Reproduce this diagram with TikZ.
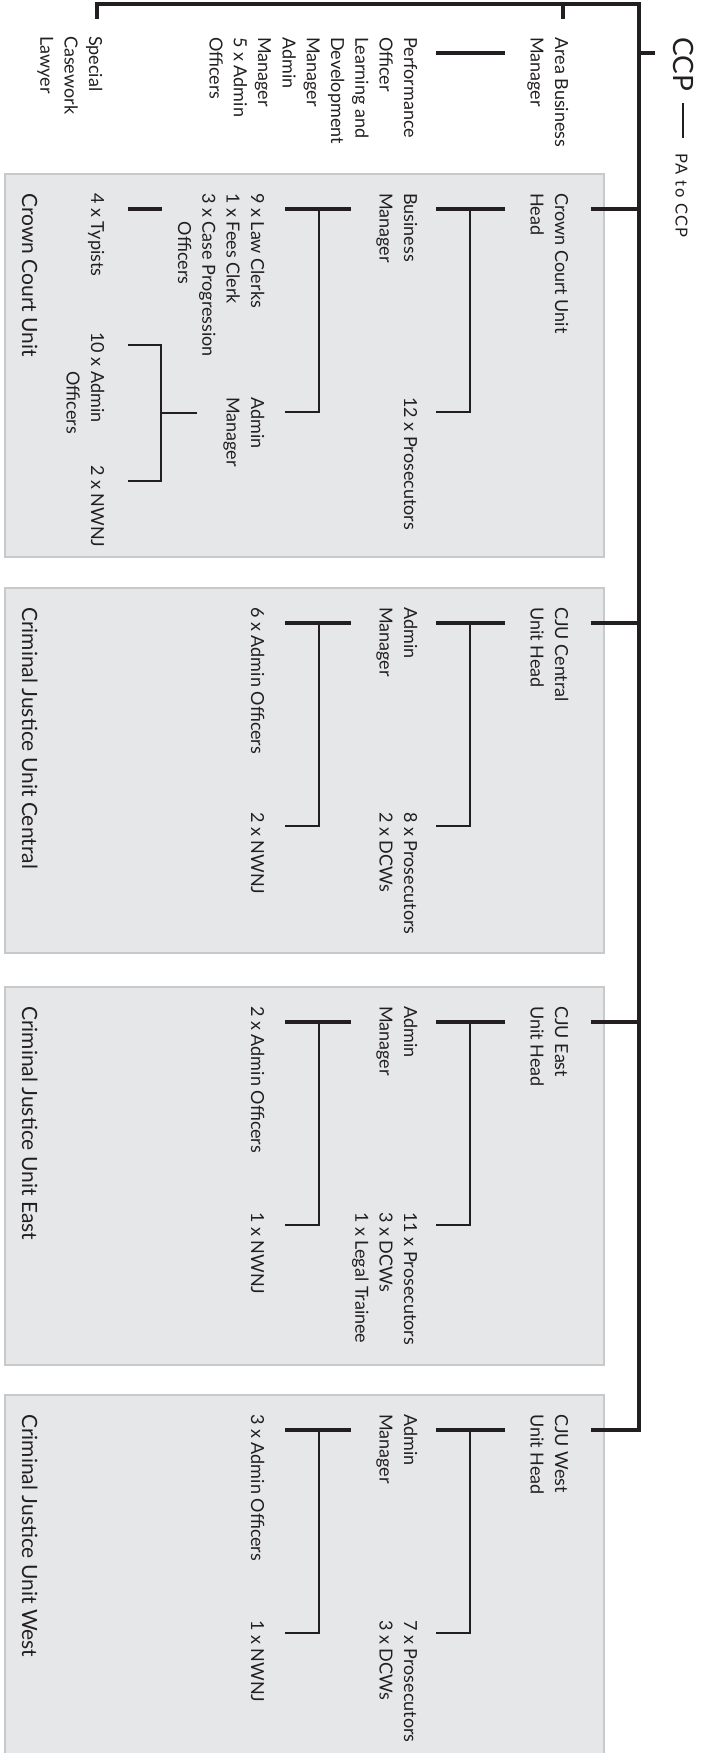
\documentclass[tikz,border=0pt]{standalone}
\usepackage{fontspec}
\setmainfont{Lato}
\definecolor{ink}{HTML}{231F20}
\definecolor{unitfill}{HTML}{E6E7E8}
\definecolor{unitedge}{HTML}{C8C9CA}
% a block of left-aligned lines whose baseline is the first line
\newcommand\txtlines[1]{\begin{tabular}[t]{@{}l@{}}#1\end{tabular}}
% grey unit panel with its head connector and the two standard brackets
\newcommand\unitframe[2]{%
  \path[unitbox] (5,0) rectangle (604,#2);
  \coordinate (#1-in) at (591,35);  \coordinate (#1-sp) at (639,35);
  \coordinate (#1-a1) at (436,35);  \coordinate (#1-a2) at (505,35);
  \coordinate (#1-aj) at (470,35);  \coordinate (#1-ab) at (470,238);
  \coordinate (#1-ae) at (436,238);
  \coordinate (#1-b1) at (285,35);  \coordinate (#1-b2) at (351,35);
  \coordinate (#1-bj) at (319,35);  \coordinate (#1-bb) at (319,238);
  \coordinate (#1-be) at (285,238);
  \draw[link] (#1-in) -- (#1-sp);
  \draw[link] (#1-a1) -- (#1-a2);
  \draw[riser] (#1-aj) -- (#1-ab) -- (#1-ae);
  \draw[link] (#1-b1) -- (#1-b2);
  \draw[riser] (#1-bj) -- (#1-bb) -- (#1-be);
}
\tikzset{
  lbl/.style={rotate=-90, anchor=base west, inner sep=0pt, text=ink,
    font=\fontsize{18}{24.3}\selectfont},
  unitname/.style={lbl, font=\fontsize{21}{25}\selectfont},
  unitbox/.style={fill=unitfill, draw=unitedge, line width=1.4pt},
  link/.style={draw=ink, line width=3.4pt},
  riser/.style={draw=ink, line width=2.6pt, line join=miter},
  spine/.style={draw=ink, line width=3.1pt, line join=miter},
}
\begin{document}
\begin{tikzpicture}[x=1pt, y=-1pt]
\path[use as bounding box] (0,0) rectangle (702,1753);
\clip (0,0) rectangle (702,1753);

% ---- top of the chart ----
\coordinate (spl-end) at (97,19);
\coordinate (top-l) at (97,4);
\coordinate (top-r) at (639,4);
\coordinate (abm-t) at (563,4);
\coordinate (abm-b) at (563,19);
\coordinate (west-corner) at (639,1430);
\coordinate (west-in) at (591,1430);
\coordinate (ccp-sp) at (639,53);
\coordinate (ccp-in) at (655,53);
\coordinate (abm-r1) at (436,53);
\coordinate (abm-r2) at (505,53);
\coordinate (pa-t) at (683,103);
\coordinate (pa-b) at (683,138);

% ---- Crown Court Unit ----
\begin{scope}[shift={(0,174)}]
  \unitframe{ccu}{383}
  \coordinate (typ-a) at (128,35);  \coordinate (typ-b) at (162,35);
  \coordinate (am-in) at (197,239); \coordinate (am-j) at (161,239);
  \coordinate (am-t) at (161,171);  \coordinate (am-tb) at (128,171);
  \coordinate (am-b) at (161,307);  \coordinate (am-bb) at (128,307);
  \draw[link] (typ-a) -- (typ-b);
  \draw[riser] (am-in) -- (am-j);
  \draw[riser] (am-tb) -- (am-t) -- (am-b) -- (am-bb);
  \node[lbl] (ccu-head) at (555,19) {\txtlines{Crown Court Unit\\Head}};
  \node[lbl] (ccu-bm) at (404,19) {\txtlines{Business\\Manager}};
  \node[lbl] (ccu-pros) at (404,223) {\txtlines{12 x Prosecutors}};
  \node[lbl] (ccu-clerks) at (251,19) {\txtlines{9 x Law Clerks\\1 x Fees Clerk\\3 x Case Progression\\\phantom{3 x }Officers}};
  \node[lbl] (ccu-am) at (251,223) {\txtlines{Admin\\Manager}};
  \node[lbl] (ccu-typ) at (91,19) {\txtlines{4 x Typists}};
  \node[lbl] (ccu-ao) at (91,158) {\txtlines{10 x Admin\\\phantom{10 x }Officers}};
  \node[lbl] (ccu-nw) at (91,291) {\txtlines{2 x NWNJ}};
  \node[unitname] (ccu-name) at (22,19) {Crown Court Unit};
\end{scope}

% ---- Criminal Justice Unit Central ----
\begin{scope}[shift={(0,588)}]
  \unitframe{cen}{365}
  \node[lbl] (cen-head) at (555,19) {\txtlines{CJU Central\\Unit Head}};
  \node[lbl] (cen-am) at (404,19) {\txtlines{Admin\\Manager}};
  \node[lbl] (cen-pros) at (404,224) {\txtlines{8 x Prosecutors\\2 x DCWs}};
  \node[lbl] (cen-ao) at (251,19) {\txtlines{6 x Admin Officers}};
  \node[lbl] (cen-nw) at (251,224) {\txtlines{2 x NWNJ}};
  \node[unitname] (cen-name) at (22,19) {Criminal Justice Unit Central};
\end{scope}

% ---- Criminal Justice Unit East ----
\begin{scope}[shift={(0,987)}]
  \unitframe{east}{378}
  \node[lbl] (east-head) at (555,19) {\txtlines{CJU East\\Unit Head}};
  \node[lbl] (east-am) at (404,19) {\txtlines{Admin\\Manager}};
  \node[lbl] (east-pros) at (404,225) {\txtlines{11 x Prosecutors\\3 x DCWs\\1 x Legal Trainee}};
  \node[lbl] (east-ao) at (251,19) {\txtlines{2 x Admin Officers}};
  \node[lbl] (east-nw) at (251,225) {\txtlines{1 x NWNJ}};
  \node[unitname] (east-name) at (22,19) {Criminal Justice Unit East};
\end{scope}

% ---- Criminal Justice Unit West ----
\begin{scope}[shift={(0,1395)}]
  \unitframe{west}{420}
  \node[lbl] (west-head) at (555,19) {\txtlines{CJU West\\Unit Head}};
  \node[lbl] (west-am) at (404,19) {\txtlines{Admin\\Manager}};
  \node[lbl] (west-pros) at (404,225) {\txtlines{7 x Prosecutors\\3 x DCWs}};
  \node[lbl] (west-ao) at (251,19) {\txtlines{3 x Admin Officers}};
  \node[lbl] (west-nw) at (251,225) {\txtlines{1 x NWNJ}};
  \node[unitname] (west-name) at (22,19) {Criminal Justice Unit West};
\end{scope}

% ---- main reporting line ----
\draw[spine] (spl-end) -- (top-l) -- (top-r) -- (west-corner) -- (west-in);
\draw[spine] (abm-t) -- (abm-b);
\draw[spine] (ccp-sp) -- (ccp-in);
\draw[link] (abm-r1) -- (abm-r2);
\draw[link, line width=2.9pt] (pa-t) -- (pa-b);

% ---- top-level posts ----
\node[lbl, font=\fontsize{28}{30}\selectfont] (ccp) at (673,37) {CCP};
\node[lbl, font=\fontsize{16.5}{18}\selectfont\addfontfeatures{LetterSpace=9}] (pa) at (675.5,153) {PA to CCP};
\node[lbl] (abm) at (555,37) {\txtlines{Area Business\\Manager}};
\node[lbl] (abm-staff) at (404,37) {\txtlines{Performance\\Officer\\Learning and\\Development\\Manager\\Admin\\Manager\\5 x Admin\\Officers}};
\node[lbl] (scl) at (89,36) {\txtlines{Special\\Casework\\Lawyer}};
\end{tikzpicture}
\end{document}
